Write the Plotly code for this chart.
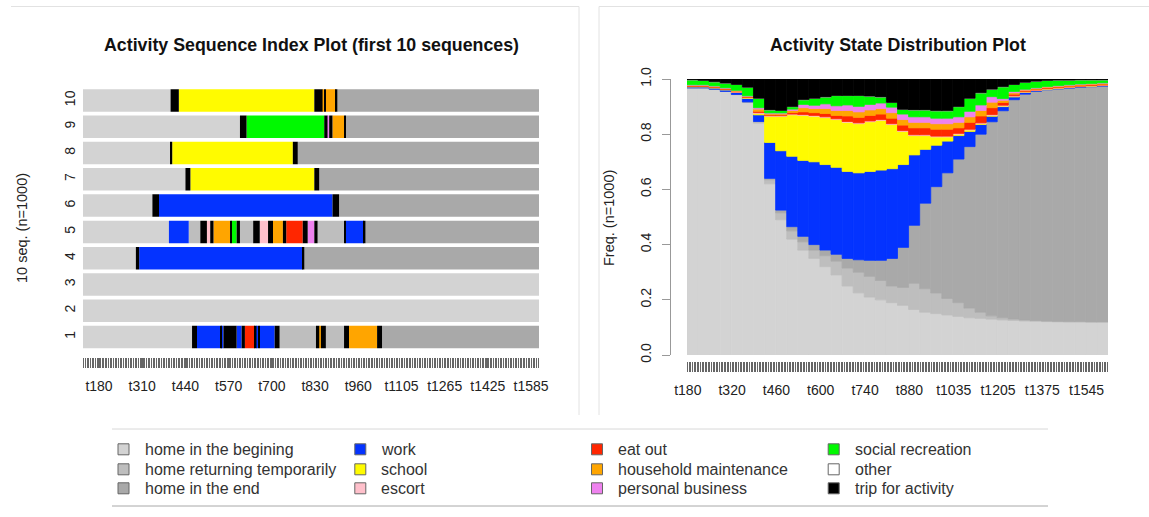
import numpy as np
import plotly.graph_objects as go

W, H = 1149, 517
FONT = "Liberation Sans, Arial, Helvetica, sans-serif"

# ---------------- states ----------------
STATE_CODES = ["hb", "hr", "he", "wk", "sc", "es", "eo", "hm", "pb", "sr", "ot", "tr"]
STATE_LABELS = ["home in the begining", "home returning temporarily", "home in the end",
                "work", "school", "escort",
                "eat out", "household maintenance", "personal business",
                "social recreation", "other", "trip for activity"]
STATE_COLORS = ["#D3D3D3", "#BEBEBE", "#A9A9A9",
                "#0433FF", "#FFFB00", "#FFC0CB",
                "#FF2600", "#FFA500", "#EE82EE",
                "#00F900", "#FFFFFF", "#000000"]

# ---------------- sequence index plot (first 10 sequences) ----------------
# each sequence: list of (state, number of time columns)
N_COLS_LEFT = 276
SEQ_ROWS = [1, 2, 3, 4, 5, 6, 7, 8, 9, 10]
SEQ_01 = [("hb", 66), ("tr", 3), ("wk", 14), ("tr", 1), ("wk", 1), ("tr", 8), ("wk", 3), ("tr", 2),
          ("eo", 6), ("tr", 1), ("wk", 1), ("tr", 1), ("wk", 9), ("tr", 3), ("hr", 22), ("tr", 2),
          ("hm", 1), ("tr", 3), ("hr", 11), ("tr", 3), ("hm", 17), ("tr", 3), ("he", 95)]
SEQ_02 = [("hb", 276)]
SEQ_03 = [("hb", 276)]
SEQ_04 = [("hb", 32), ("tr", 2), ("wk", 99), ("tr", 1), ("he", 142)]
SEQ_05 = [("hb", 52), ("wk", 12), ("hr", 7), ("tr", 4), ("es", 2), ("tr", 2), ("hm", 10), ("tr", 1),
          ("sr", 3), ("tr", 2), ("hr", 8), ("tr", 4), ("es", 5), ("tr", 3), ("hm", 6), ("tr", 2),
          ("eo", 10), ("tr", 3), ("pb", 4), ("tr", 2), ("hr", 16), ("tr", 1), ("wk", 11), ("tr", 1),
          ("he", 105)]
SEQ_06 = [("hb", 42), ("tr", 4), ("wk", 105), ("tr", 4), ("he", 121)]
SEQ_07 = [("hb", 62), ("tr", 3), ("sc", 75), ("tr", 3), ("he", 133)]
SEQ_08 = [("hb", 53), ("tr", 1), ("sc", 73), ("tr", 3), ("he", 146)]
SEQ_09 = [("hb", 95), ("tr", 4), ("sr", 47), ("tr", 2), ("pb", 1), ("tr", 2), ("hm", 7), ("tr", 1),
          ("he", 117)]
SEQ_10 = [("hb", 53), ("tr", 5), ("sc", 82), ("tr", 5), ("hm", 1), ("tr", 1), ("hm", 6), ("tr", 1),
          ("he", 122)]
SEQUENCES = [SEQ_01, SEQ_02, SEQ_03, SEQ_04, SEQ_05, SEQ_06, SEQ_07, SEQ_08, SEQ_09, SEQ_10]

LEFT_XTICK_LABELS = ["t180", "t310", "t440", "t570", "t700", "t830", "t960",
                     "t1105", "t1265", "t1425", "t1585"]
LEFT_TICK_COL0, LEFT_TICK_STEP = 9.7, 26.15

# ---------------- state distribution plot ----------------
N_COLS_RIGHT = 266
DIST_INTERVAL = 7  # time columns per bar
DIST_HB = [.968, .968, .963, .955, .943, .915, .84, .62, .49, .42, .38, .35, .32, .29, .25, .225, .21, .20, .19,
           .18, .165, .155, .15, .145, .14, .135, .133, .13, .127, .125, .123, .122, .121, .12, .12, .12, .12, .12]
DIST_HR = [0, 0, 0, 0, .001, .002, .005, .015, .025, .03, .03, .03, .04, .05, .065, .075, .075, .07, .06,
           .065, .095, .085, .075, .06, .05, .035, .022, .012, .008, .005, .004, .003, .002, .002, .001, .001, 0, 0]
DIST_HE = [0, 0, 0, 0, 0, 0, .001, .005, .01, .015, .02, .02, .02, .025, .035, .045, .058, .073, .10,
           .145, .21, .31, .385, .455, .52, .585, .645, .703, .75, .795, .818, .83, .838, .842, .846, .849, .852, .854]
DIST_WK = [.004, .004, .005, .006, .008, .013, .024, .13, .215, .255, .275, .30, .31, .315, .315, .315, .322, .327, .325,
           .30, .255, .195, .15, .115, .085, .055, .035, .02, .015, .01, .007, .003, .002, .002, .002, .002, .002, .002]
DIST_SC = [0, 0, 0, 0, 0, .002, .005, .095, .125, .15, .163, .165, .17, .173, .178, .178, .18, .18, .16,
           .12, .07, .05, .03, .015, .005, .005, .003, .003, .002, .002, .001, .001, .001, .001, .001, .001, .001, .001]
DIST_ES = [.001, .001, .001, .001, .001, .001, .003, .002, .002, .003, .003, .003, .003, .003, .003, .003, .003, .003, .003,
           .003, .003, .003, .003, .003, .003, .003, .003, .003, .003, .002, .001, .001, .001, .001, .001, .001, .001, .001]
DIST_EO = [.002, .002, .002, .002, .002, .002, .005, .003, .003, .005, .01, .01, .012, .012, .02, .02, .02, .02, .02,
           .02, .025, .025, .025, .025, .02, .025, .025, .025, .01, .006, .003, .003, .003, .003, .003, .003, .003, .003]
DIST_HM = [.002, .002, .002, .002, .002, .002, .008, .004, .004, .008, .015, .015, .018, .018, .02, .02, .02, .02, .02,
           .02, .02, .02, .02, .02, .02, .02, .02, .02, .008, .005, .003, .003, .003, .003, .003, .003, .003, .003]
DIST_PB = [.002, .002, .002, .002, .002, .002, .005, .003, .003, .005, .012, .012, .017, .017, .02, .02, .02, .02, .02,
           .02, .02, .02, .02, .02, .02, .02, .02, .02, .006, .005, .003, .002, .002, .002, .002, .002, .002, .002]
DIST_SR = [.018, .016, .015, .017, .021, .031, .034, .011, .009, .009, .017, .025, .025, .037, .034, .039, .03, .022, .017,
           .017, .025, .025, .027, .027, .037, .047, .044, .027, .043, .025, .025, .024, .022, .02, .017, .015, .013, .011]
DIST_OT = [0, 0, 0, 0, 0, 0, 0, 0, 0, 0, 0, 0, 0, 0, 0, 0, 0, 0, 0,
           0, 0, 0, 0, 0, 0, 0, 0, 0, 0, 0, 0, 0, 0, 0, 0, 0, 0, 0]
DIST_TR = [.003, .005, .01, .015, .02, .03, .07, .112, .114, .10, .075, .07, .065, .06, .06, .06, .062, .065, .085,
           .11, .112, .112, .115, .115, .10, .07, .05, .037, .028, .02, .012, .008, .005, .004, .004, .003, .003, .003]
DIST = [DIST_HB, DIST_HR, DIST_HE, DIST_WK, DIST_SC, DIST_ES, DIST_EO, DIST_HM, DIST_PB, DIST_SR, DIST_OT, DIST_TR]

RIGHT_XTICK_LABELS = ["t180", "t320", "t460", "t600", "t740", "t880", "t1035", "t1205", "t1375", "t1545"]
RIGHT_TICK_COL0, RIGHT_TICK_STEP = 0.5, 28
RIGHT_YTICKS = [0, 0.2, 0.4, 0.6, 0.8, 1.0]
RIGHT_YTICK_LABELS = ["0.0", "0.2", "0.4", "0.6", "0.8", "1.0"]


def px(x):
    return x / W


def py(y):
    return 1 - y / H


fig = go.Figure()

# sequence index plot bars
for code, color in zip(STATE_CODES, STATE_COLORS):
    ys, xs, bases = [], [], []
    for row, seq in zip(SEQ_ROWS, SEQUENCES):
        start = 0
        for st, ln in seq:
            if st == code:
                ys.append(row)
                xs.append(ln)
                bases.append(start)
            start += ln
    if ys:
        fig.add_trace(go.Bar(orientation="h", y=ys, x=xs, base=bases, width=0.855,
                             marker=dict(color=color, line=dict(width=0)),
                             xaxis="x", yaxis="y", showlegend=False, hoverinfo="skip"))

# state distribution stacked bars
n_int = len(DIST_HB)
starts = np.arange(n_int) * DIST_INTERVAL
cum = np.zeros(n_int)
for code, color, vals in zip(STATE_CODES, STATE_COLORS, DIST):
    v = np.array(vals, dtype=float)
    fig.add_trace(go.Bar(x=starts, y=v, base=cum.copy(), width=DIST_INTERVAL, offset=0,
                         marker=dict(color=color, line=dict(width=0.8, color=color)),
                         xaxis="x2", yaxis="y2", showlegend=False, hoverinfo="skip"))
    cum = cum + v

tickfont = dict(family=FONT, size=14, color="#222")
left_tickvals = [LEFT_TICK_COL0 + LEFT_TICK_STEP * i for i in range(len(LEFT_XTICK_LABELS))]
right_tickvals = [RIGHT_TICK_COL0 + RIGHT_TICK_STEP * i for i in range(len(RIGHT_XTICK_LABELS))]
band_color = "#666"

fig.update_layout(
    template="none",
    width=W, height=H, autosize=False,
    margin=dict(l=0, r=0, t=0, b=0, pad=0, autoexpand=False),
    paper_bgcolor="white", plot_bgcolor="white",
    barmode="overlay", showlegend=False,
    font=dict(family=FONT, color="#222"),
    xaxis=dict(domain=[px(83), px(539)], range=[0, N_COLS_LEFT], anchor="free", position=py(357),
               automargin=False,
               tickmode="array", tickvals=left_tickvals, ticktext=LEFT_XTICK_LABELS,
               ticks="outside", ticklen=10, tickwidth=1, tickcolor=band_color,
               minor=dict(ticks="outside", ticklen=10, tickwidth=1, tickcolor=band_color,
                          tickmode="linear", tick0=0.5, dtick=1, showgrid=False),
               showgrid=False, zeroline=False, showline=False, tickfont=tickfont,
               ticklabelstandoff=6, fixedrange=True),
    yaxis=dict(domain=[py(350.2), py(87.3)], range=[0.5, 10.5], anchor="x", automargin=False,
               tickmode="array", tickvals=SEQ_ROWS, ticktext=[str(r) for r in SEQ_ROWS],
               tickangle=-90, ticks="", showgrid=False, zeroline=False, showline=False,
               tickfont=tickfont, ticklabelstandoff=4, fixedrange=True),
    xaxis2=dict(domain=[px(687), px(1108)], range=[0, N_COLS_RIGHT], anchor="free", position=py(361),
                automargin=False,
                tickmode="array", tickvals=right_tickvals, ticktext=RIGHT_XTICK_LABELS,
                ticks="outside", ticklen=10, tickwidth=1, tickcolor=band_color,
                minor=dict(ticks="outside", ticklen=10, tickwidth=1, tickcolor=band_color,
                           tickmode="linear", tick0=0.5, dtick=1, showgrid=False),
                showgrid=False, zeroline=False, showline=False, tickfont=tickfont,
                ticklabelstandoff=6, fixedrange=True),
    yaxis2=dict(domain=[py(355), py(79)], range=[0, 1], anchor="free", position=px(670),
                automargin=False,
                tickmode="array", tickvals=RIGHT_YTICKS, ticktext=RIGHT_YTICK_LABELS,
                tickangle=-90, ticks="outside", ticklen=8, tickwidth=1, tickcolor="#999",
                showline=True, linecolor="#999", linewidth=1,
                showgrid=False, zeroline=False, tickfont=tickfont, ticklabelstandoff=5,
                fixedrange=True),
)

annotations = [
    dict(text="<b>Activity Sequence Index Plot (first 10 sequences)</b>", x=px(311), y=py(45),
         font=dict(family=FONT, size=17.8, color="#111")),
    dict(text="<b>Activity State Distribution Plot</b>", x=px(898), y=py(45),
         font=dict(family=FONT, size=17.8, color="#111")),
    dict(text="10 seq. (n=1000)", x=px(22), y=py(228), textangle=-90,
         font=dict(family=FONT, size=14.5, color="#222")),
    dict(text="Freq. (n=1000)", x=px(609), y=py(218), textangle=-90,
         font=dict(family=FONT, size=14.5, color="#222")),
]
for a in annotations:
    a.update(xref="paper", yref="paper", showarrow=False, xanchor="center", yanchor="middle")

shapes = []
frame_col = "#e2e2e2"
for (x0, y0, x1, y1, col) in [(11, 6.5, 579, 6.5, frame_col), (579, 6.5, 579, 415, frame_col),
                              (599, 6.5, 1149, 6.5, frame_col), (599, 6.5, 599, 415, frame_col),
                              (112, 429, 1048, 429, "#d8d8d8"), (112, 506, 1048, 506, "#a8a8a8")]:
    shapes.append(dict(type="line", xref="paper", yref="paper", x0=px(x0), y0=py(y0), x1=px(x1), y1=py(y1),
                       line=dict(color=col, width=1)))

# legend (3 rows x 4 columns, column-major)
LEG_X = [123.5, 360.3, 597.0, 833.7]
LEG_Y = [449.3, 469.3, 488.3]
for i, (label, color) in enumerate(zip(STATE_LABELS, STATE_COLORS)):
    cx, cy = LEG_X[i // 3], LEG_Y[i % 3]
    shapes.append(dict(type="rect", xref="paper", yref="paper",
                       x0=px(cx - 5.5), x1=px(cx + 5.5), y0=py(cy + 5.5), y1=py(cy - 5.5),
                       fillcolor=color, line=dict(color="#666", width=1)))
    annotations.append(dict(text=label, x=px(cx + 19), y=py(cy), xref="paper", yref="paper",
                            xanchor="left", yanchor="middle", showarrow=False,
                            font=dict(family=FONT, size=16, color="#333")))

fig.update_layout(annotations=annotations, shapes=shapes)
fig.write_html("out.html")
